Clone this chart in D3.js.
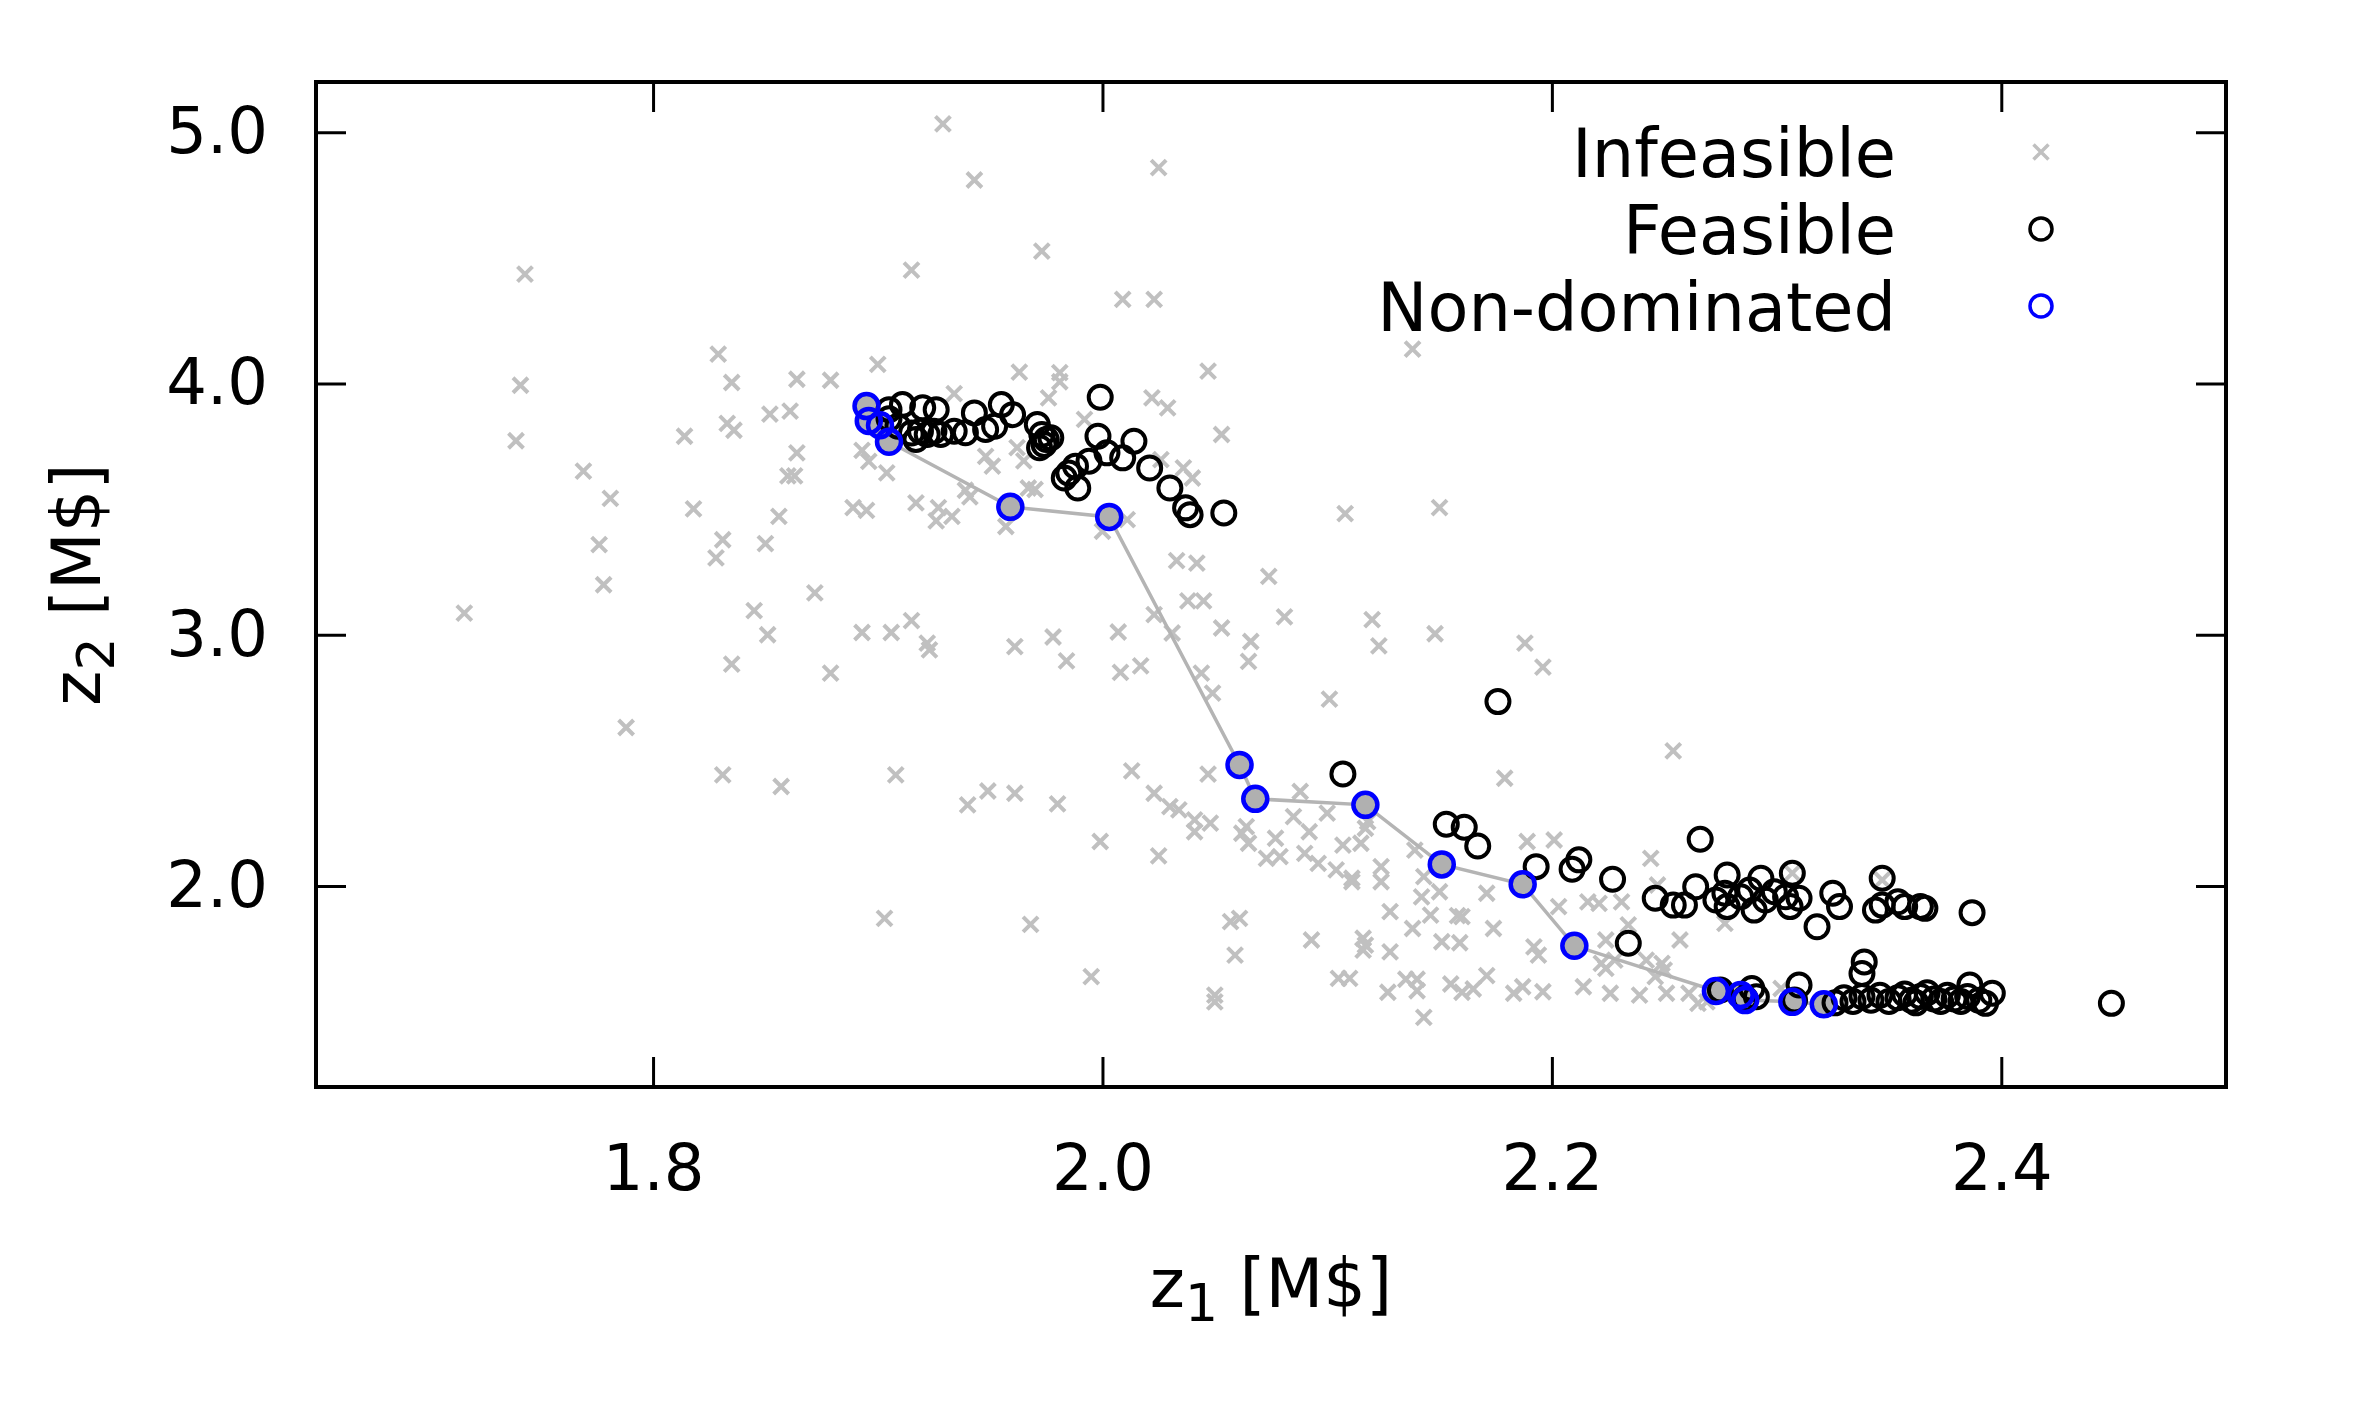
<!DOCTYPE html>
<html>
<head>
<meta charset="utf-8">
<script src="https://cdn.jsdelivr.net/npm/d3@7"></script>
<style>
  body { margin: 0; background: #fff; }
  svg text { font-family: "DejaVu Sans", sans-serif; }
</style>
</head>
<body>
<svg id="pareto" width="2358" height="1417"></svg>
<script>
// data, [z1, z2] in M$
let infeasible = [
  [1.929,5.033],[1.943,4.810],[1.743,4.435],[1.915,4.451],[1.829,4.117],[1.900,4.076],[1.741,3.993],
  [1.835,4.004],[1.864,4.017],[1.879,4.013],[1.852,3.878],[1.861,3.890],[1.833,3.841],[1.836,3.814],
  [1.814,3.790],[1.739,3.772],[1.934,3.960],[1.864,3.724],[1.893,3.734],[1.896,3.690],[1.904,3.644],
  [1.860,3.632],[1.863,3.632],[1.769,3.651],[1.781,3.543],[1.818,3.501],[1.856,3.471],[1.889,3.506],
  [1.895,3.495],[1.917,3.525],[1.927,3.506],[1.926,3.453],[1.933,3.471],[1.939,3.575],[1.941,3.549],
  [1.776,3.359],[1.831,3.378],[1.828,3.306],[1.850,3.363],[1.778,3.199],[1.872,3.167],
  [1.963,4.045],[1.981,4.043],[1.981,4.007],[2.047,4.049],[1.976,3.943],[2.022,3.943],[2.029,3.903],
  [1.992,3.857],[2.053,3.797],[1.948,3.710],[1.951,3.671],[1.962,3.745],[1.965,3.692],[2.026,3.697],
  [2.036,3.664],[2.040,3.624],[1.967,3.584],[1.970,3.578],[1.957,3.431],[2.000,3.412],[2.011,3.458],
  [2.033,3.295],[2.042,3.285],[2.038,3.135],[2.045,3.135],
  [2.025,4.859],[1.973,4.527],[2.009,4.335],[2.023,4.335],[2.138,4.137],[2.074,3.232],[2.108,3.482],
  [2.150,3.506],
  [1.716,3.086],[1.845,3.096],[1.851,3.000],[1.835,2.883],[1.879,2.847],[1.893,3.009],[1.906,3.009],
  [1.915,3.056],[1.922,2.967],[1.923,2.940],[1.788,2.631],[1.831,2.442],[1.857,2.396],[1.908,2.442],
  [1.940,2.323],[1.903,1.871],
  [2.023,3.080],[1.961,2.953],[1.978,2.991],[1.984,2.896],[2.007,3.011],[2.008,2.850],[2.017,2.876],
  [2.031,3.007],[2.053,3.027],[2.066,2.973],[2.065,2.894],[2.081,3.071],[2.120,3.060],[2.123,2.956],
  [2.148,3.004],[2.188,2.967],[2.196,2.871],[2.044,2.847],[2.049,2.768],[2.101,2.744],[2.179,2.429],
  [1.949,2.378],[1.961,2.369],[1.980,2.327],[2.013,2.458],[2.047,2.445],[2.023,2.369],[2.030,2.316],
  [2.034,2.303],[2.041,2.263],[2.048,2.250],[2.041,2.216],[2.064,2.236],[2.062,2.210],[2.065,2.170],
  [1.999,2.177],[2.025,2.120],[2.077,2.190],[2.073,2.110],[2.079,2.117],[2.085,2.276],[2.088,2.376],
  [2.092,2.216],[2.090,2.130],[2.096,2.090],[2.100,2.290],[2.104,2.064],[2.111,2.031],[2.111,2.017],
  [2.107,2.163],[2.115,2.170],[2.117,2.230],[2.118,2.256],[2.124,2.077],[2.124,2.017],[2.139,2.143],
  [2.143,2.037],[2.142,1.957],[2.150,1.977],[2.128,1.898],[2.146,1.884],[2.138,1.831],[2.160,1.878],
  [2.158,1.882],[2.151,1.778],[2.159,1.774],[2.174,1.831],[2.171,1.971],[2.189,2.177],[2.201,2.183],
  [2.203,1.918],[2.216,1.937],[2.221,1.931],[2.192,1.758],[2.194,1.725],[2.222,1.692],[2.224,1.672],
  [2.214,1.599],[2.226,1.573],[1.968,1.847],[1.995,1.639],[2.057,1.858],[2.061,1.871],[2.059,1.725],
  [2.050,1.566],[2.050,1.539],[2.093,1.785],[2.116,1.792],[2.117,1.765],[2.116,1.745],[2.128,1.738],
  [2.105,1.632],[2.110,1.632],[2.127,1.577],[2.135,1.629],[2.140,1.583],[2.140,1.629],[2.143,1.477],
  [2.155,1.610],[2.160,1.577],[2.165,1.590],[2.171,1.643],[2.183,1.573],[2.187,1.599],[2.196,1.579],
  [2.254,2.538],[2.244,2.110],[2.247,2.004],[2.231,1.937],[2.234,1.845],[2.257,1.785],[2.224,1.785],
  [2.242,1.705],[2.249,1.692],[2.246,1.639],[2.250,1.665],[2.228,1.705],[2.239,1.566],[2.251,1.573],
  [2.261,1.573],[2.265,1.533],[2.269,1.539],[2.277,1.851],[2.302,1.592],[2.307,2.051],[2.347,2.024]
]

let feasible = [
  [1.905,3.896],[1.911,3.916],[1.905,3.860],[1.909,3.830],[1.920,3.903],[1.926,3.896],[1.915,3.803],
  [1.919,3.810],[1.922,3.797],[1.925,3.810],[1.917,3.777],[1.928,3.797],[1.934,3.810],[1.939,3.804],
  [1.943,3.883],[1.948,3.817],[1.952,3.830],[1.955,3.916],[1.960,3.876],[1.971,3.837],[1.973,3.797],
  [1.975,3.777],[1.977,3.784],[1.972,3.744],[1.974,3.757],[1.999,3.945],[1.998,3.790],[2.014,3.770],
  [2.002,3.724],[2.009,3.704],[1.994,3.691],[1.988,3.671],[1.985,3.644],[1.983,3.624],[1.989,3.584],
  [2.021,3.664],[2.030,3.584],[2.037,3.505],[2.039,3.478],[2.054,3.485],
  [2.176,2.734],[2.107,2.446],[2.153,2.246],[2.161,2.234],[2.167,2.159],[2.193,2.077],[2.212,2.104],
  [2.209,2.067],[2.227,2.027],[2.234,1.772],[2.266,2.186],
  [2.246,1.951],[2.254,1.924],[2.259,1.924],[2.264,1.997],[2.273,1.944],[2.277,1.971],[2.278,1.918],
  [2.278,2.044],[2.284,1.957],[2.288,1.984],[2.290,1.904],[2.293,2.031],[2.295,1.944],[2.299,1.977],
  [2.304,1.957],[2.306,1.918],[2.307,2.051],[2.310,1.951],[2.318,1.838],[2.325,1.971],[2.328,1.918],
  [2.344,1.904],[2.347,2.031],[2.347,1.924],[2.354,1.937],[2.357,1.918],[2.364,1.918],[2.366,1.911],
  [2.387,1.894],
  [2.275,1.586],[2.289,1.592],[2.291,1.559],[2.286,1.552],[2.310,1.606],[2.308,1.546],[2.339,1.698],
  [2.338,1.652],[2.326,1.535],[2.330,1.555],[2.334,1.540],[2.338,1.560],[2.342,1.545],[2.346,1.565],
  [2.350,1.540],[2.354,1.555],[2.357,1.570],[2.360,1.545],[2.362,1.535],[2.364,1.560],[2.367,1.575],
  [2.370,1.550],[2.373,1.540],[2.376,1.565],[2.379,1.550],[2.382,1.540],[2.385,1.560],[2.390,1.545],
  [2.386,1.606],[2.396,1.573],[2.393,1.533],[2.449,1.533]
]

let nonDominated = [
  [1.895,3.910],[1.896,3.851],[1.901,3.834],[1.905,3.768],[1.959,3.509],[2.003,3.469],[2.061,2.482],
  [2.068,2.347],[2.117,2.323],[2.151,2.086],[2.187,2.007],[2.210,1.762],[2.273,1.582],[2.284,1.566],
  [2.286,1.546],[2.307,1.539],[2.321,1.529]
]

let xTicks = [1.8, 2.0, 2.2, 2.4]
let yTicks = [2.0, 3.0, 4.0, 5.0]
let legendLabels = ['Infeasible', 'Feasible', 'Non-dominated']

// plot frame in page pixels
let frameLeft = 316, frameRight = 2226, frameTop = 82, frameBottom = 1087
let fontSize = 64, labelSize = 67

let svg = d3.select('svg#pareto')

let xScale = d3.scaleLinear().domain([1.65, 2.5]).range([frameLeft, frameRight])
let yScale = d3.scaleLinear().domain([1.2, 5.2]).range([frameBottom, frameTop])

// axes, ticks pointing inwards on all four sides
let styleAxis = (g) => {
  g.select('.domain').remove()
  g.selectAll('.tick line').attr('stroke', '#000').attr('stroke-width', 3)
  g.attr('font-family', '"DejaVu Sans", sans-serif').attr('font-size', fontSize)
  g.selectAll('.tick text').attr('fill', '#000')
}

svg.append('g')
  .attr('transform', `translate(0, ${frameBottom})`)
  .call(d3.axisBottom(xScale).tickValues(xTicks).tickFormat(d3.format('.1f'))
    .tickSizeInner(-30).tickSizeOuter(0).tickPadding(58))
  .call(styleAxis)

svg.append('g')
  .attr('transform', `translate(0, ${frameTop})`)
  .call(d3.axisTop(xScale).tickValues(xTicks).tickFormat('')
    .tickSizeInner(-30).tickSizeOuter(0))
  .call(styleAxis)

svg.append('g')
  .attr('transform', `translate(${frameLeft}, 0)`)
  .call(d3.axisLeft(yScale).tickValues(yTicks).tickFormat(d3.format('.1f'))
    .tickSizeInner(-30).tickSizeOuter(0).tickPadding(48))
  .call(styleAxis)

svg.append('g')
  .attr('transform', `translate(${frameRight}, 0)`)
  .call(d3.axisRight(yScale).tickValues(yTicks).tickFormat('')
    .tickSizeInner(-30).tickSizeOuter(0))
  .call(styleAxis)

// frame
svg.append('rect')
  .attr('x', frameLeft).attr('y', frameTop)
  .attr('width', frameRight - frameLeft).attr('height', frameBottom - frameTop)
  .attr('fill', 'none').attr('stroke', '#000').attr('stroke-width', 4)

let crossPath = 'M-7.5,-7.5L7.5,7.5M-7.5,7.5L7.5,-7.5'

// infeasible points
svg.append('g').selectAll('path')
  .data(infeasible)
  .enter()
  .append('path')
  .attr('d', crossPath)
  .attr('transform', d => `translate(${xScale(d[0])}, ${yScale(d[1])})`)
  .attr('stroke', '#c0c0c0').attr('stroke-width', 4).attr('fill', 'none')

// front line with grey filled points
let frontLine = d3.line().x(d => xScale(d[0])).y(d => yScale(d[1]))
svg.append('path')
  .datum(nonDominated)
  .attr('d', frontLine)
  .attr('fill', 'none').attr('stroke', '#b4b4b4').attr('stroke-width', 3.5)

svg.append('g').selectAll('circle')
  .data(nonDominated)
  .enter()
  .append('circle')
  .attr('cx', d => xScale(d[0])).attr('cy', d => yScale(d[1]))
  .attr('r', 12).attr('fill', '#b0b0b0')

// feasible points
svg.append('g').selectAll('circle')
  .data(feasible)
  .enter()
  .append('circle')
  .attr('cx', d => xScale(d[0])).attr('cy', d => yScale(d[1]))
  .attr('r', 11.5).attr('fill', 'none').attr('stroke', '#000').attr('stroke-width', 4)

// non-dominated points
svg.append('g').selectAll('circle')
  .data(nonDominated)
  .enter()
  .append('circle')
  .attr('cx', d => xScale(d[0])).attr('cy', d => yScale(d[1]))
  .attr('r', 12).attr('fill', 'none').attr('stroke', '#0000ff').attr('stroke-width', 4.5)

// legend
let legend = svg.append('g')
legendLabels.forEach((label, i) => {
  let y = 177 + i * 77
  legend.append('text')
    .attr('x', 1896).attr('y', y)
    .attr('text-anchor', 'end')
    .attr('font-size', labelSize)
    .text(label)
  let sy = y - 25
  if (i === 0) {
    legend.append('path').attr('d', crossPath)
      .attr('transform', `translate(2041, ${sy})`)
      .attr('stroke', '#c0c0c0').attr('stroke-width', 3.5).attr('fill', 'none')
  } else {
    legend.append('circle')
      .attr('cx', 2041).attr('cy', sy).attr('r', 11)
      .attr('fill', 'none')
      .attr('stroke', i === 1 ? '#000' : '#0000ff').attr('stroke-width', 3.5)
  }
})

// axis labels
let xLabel = svg.append('text')
  .attr('x', (frameLeft + frameRight) / 2)
  .attr('y', 1307)
  .attr('text-anchor', 'middle')
  .attr('font-size', labelSize)
xLabel.append('tspan').text('z')
xLabel.append('tspan').attr('font-size', 52).attr('dy', 14).text('1')
xLabel.append('tspan').attr('dy', -14).text(' [M$]')

let yLabel = svg.append('text')
  .attr('transform', `translate(100, ${(frameTop + frameBottom) / 2}) rotate(-90)`)
  .attr('text-anchor', 'middle')
  .attr('font-size', labelSize)
yLabel.append('tspan').text('z')
yLabel.append('tspan').attr('font-size', 52).attr('dy', 14).text('2')
yLabel.append('tspan').attr('dy', -14).text(' [M$]')
</script>
</body>
</html>
